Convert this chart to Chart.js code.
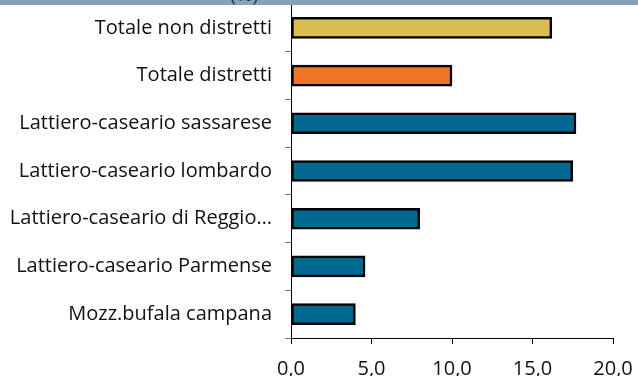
<!DOCTYPE html>
<html lang="it">
<head>
  <meta charset="UTF-8">
  <title>Distretti lattiero-caseari (%)</title>
  <script src="https://cdn.jsdelivr.net/npm/chart.js"></script>
  <style>
    * { margin:0; padding:0; box-sizing:border-box; }
    html,body { width:638px; height:376px; overflow:hidden; background:#fff; font-family:'Open Sans',sans-serif; }
    #wrap { position:relative; width:638px; height:376px; }
    /* header strip, title text mostly cut off at the top */
    #head {
      position:absolute; top:0; left:0; width:638px; height:5px;
      background:#86a3b8; overflow:hidden; z-index:2;
    }
    #head span {
      position:absolute; left:230px; top:-16px;
      font-size:20px; color:#2b3a45; line-height:20px;
    }
    canvas { position:absolute; top:0; left:0; }
  </style>
</head>
<body>
  <div id="wrap">
    <div id="head"><span>(%)</span></div>
    <canvas id="chart" width="638" height="376"></canvas>
  </div>

  <script>
    // categories, top to bottom
    const labels = [
      "Totale non distretti",
      "Totale distretti",
      "Lattiero-caseario sassarese",
      "Lattiero-caseario lombardo",
      "Lattiero-caseario di Reggio…",
      "Lattiero-caseario Parmense",
      "Mozz.bufala campana"
    ];
    const values = [16.2, 10.0, 17.7, 17.5, 8.0, 4.6, 4.0];
    const barColors = ["#d9bd4f", "#ef7627", "#006891", "#006891", "#006891", "#006891", "#006891"];
    const xTicks = [0, 5, 10, 15, 20];

    new Chart(document.getElementById("chart"), {
      type: "bar",
      data: {
        labels: labels,
        datasets: [{
          data: values,
          backgroundColor: barColors,
          borderColor: "#000",
          borderWidth: 2.5,
          borderSkipped: false,
          barThickness: 21
        }]
      },
      options: {
        indexAxis: "y",
        responsive: false,
        animation: false,
        layout: { padding: { top: 4, right: 25, left: 0, bottom: 0 } },
        plugins: { legend: { display: false }, tooltip: { enabled: false } },
        scales: {
          x: {
            min: xTicks[0], max: xTicks[xTicks.length - 1],
            afterBuildTicks: s => { s.ticks = xTicks.map(v => ({ value: v })); },
            afterFit: s => { s.height = 38; s.paddingLeft = 0; s.paddingRight = 0; },
            border: { color: "#000", width: 1 },
            grid: { drawOnChartArea: false, tickLength: 6, color: "#000" },
            ticks: {
              color: "#111", padding: 13,
              font: { family: "'Open Sans'", size: 20 },
              callback: v => v.toFixed(1).replace(".", ",")
            }
          },
          y: {
            afterFit: s => { s.width = 291; s.paddingTop = 0; s.paddingBottom = 0; },
            border: { color: "#000", width: 1 },
            grid: { drawOnChartArea: false, tickLength: 6, color: "#777", offset: true },
            ticks: {
              color: "#111", padding: 13,
              font: { family: "'Open Sans'", size: 20 }
            }
          }
        }
      }
    });
  </script>
</body>
</html>
